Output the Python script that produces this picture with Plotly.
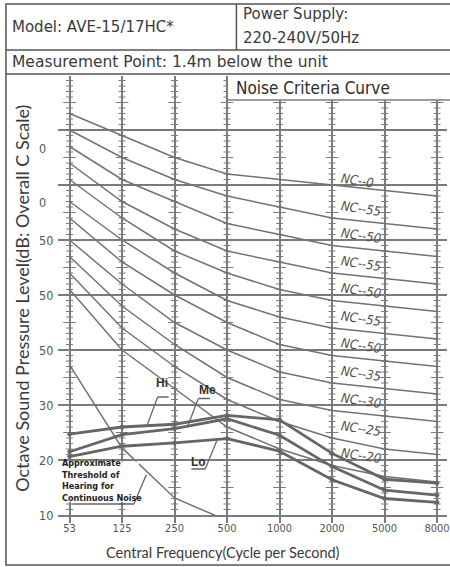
import plotly.graph_objects as go

# ---------------- data ----------------
FREQ_LABELS = ["53", "125", "250", "500", "1000", "2000", "5000", "8000"]

NC_LEVELS = [70, 65, 60, 55, 50, 45, 40, 35, 30, 25, 20]
NC_TEXT = ["NC--0", "NC--55", "NC--50", "NC--55", "NC--50", "NC--55",
           "NC--50", "NC--35", "NC--30", "NC--25", "NC--20"]
NC70 = [83, 79, 75, 72, 71, 70, 69, 68]
NC65 = [80, 75, 71, 68, 66, 64, 63, 62]
NC60 = [77, 71, 67, 63, 61, 59, 58, 57]
NC55 = [74, 67, 62, 58, 56, 54, 53, 52]
NC50 = [71, 64, 58, 54, 51, 49, 48, 47]
NC45 = [67, 60, 54, 49, 46, 44, 43, 42]
NC40 = [64, 56, 50, 45, 41, 39, 38, 37]
NC35 = [60, 52, 45, 40, 36, 34, 33, 32]
NC30 = [57, 48, 41, 35, 31, 29, 28, 27]
NC25 = [54, 44, 37, 31, 27, 24, 22, 21]
NC20 = [51, 40, 33, 26, 22, 19, 17, 16]
NC_CURVES = [NC70, NC65, NC60, NC55, NC50, NC45, NC40, NC35, NC30, NC25, NC20]

THRESH_FREQ = ["53", "125", "250", "500"]
THRESH = [37.3, 22.2, 13.1, 9.0]

HI = [24.7, 26.0, 26.5, 28.1, 27.3, 21.2, 16.5, 15.8]
ME = [21.5, 24.6, 25.7, 27.5, 24.5, 18.8, 14.5, 13.6]
LO = [20.6, 22.5, 23.1, 23.9, 21.6, 16.4, 13.0, 12.3]

Y_GRID = [10, 20, 30, 40, 50, 60, 70, 80]
Y_TICK_POS = [10, 20, 30, 40, 50, 60, 66.9, 76.7]
Y_TICK_TEXT = ["10", "20", "30", "50", "50", "50", "0", "0"]

HATCH_SMALL = [v for v in range(11, 90) if v % 5 != 0]
HATCH_LARGE = [v for v in range(15, 90, 5)]

# ---------------- style ----------------
W, H = 450, 567
GRID = "#7b7b7b"
CURVE = "#727272"
TXT = "#3a3a3a"
NARROW = "Liberation Sans Narrow, Arial Narrow, DejaVu Sans Condensed, sans-serif"
WIDE = "DejaVu Sans, Verdana, sans-serif"


def px(x):
    return x / W


def py(y):
    return 1 - y / H


fig = go.Figure()

# hatch marks on the vertical grid lines
for vals, size in ((HATCH_SMALL, 5), (HATCH_LARGE, 9)):
    xs, ys = [], []
    for f in FREQ_LABELS:
        for v in vals:
            xs.append(f)
            ys.append(v)
    fig.add_trace(go.Scatter(
        x=xs, y=ys, mode="markers", hoverinfo="skip", showlegend=False,
        marker=dict(symbol="line-ew", size=size, color=GRID,
                    line=dict(color=GRID, width=1)),
        cliponaxis=True))

for curve in NC_CURVES:
    fig.add_trace(go.Scatter(x=FREQ_LABELS, y=curve, mode="lines",
                             line=dict(color=CURVE, width=1.5),
                             showlegend=False, hoverinfo="skip"))

fig.add_trace(go.Scatter(x=THRESH_FREQ, y=THRESH, mode="lines",
                         line=dict(color=CURVE, width=1.5),
                         showlegend=False, hoverinfo="skip"))

for series in (LO, ME, HI):
    fig.add_trace(go.Scatter(x=FREQ_LABELS, y=series, mode="lines+markers",
                             line=dict(color="#666666", width=2.8),
                             marker=dict(size=4.5, color="#666666"),
                             showlegend=False, hoverinfo="skip"))

X0 = (58 - 70) / 52.86
X1 = (450 - 70) / 52.86
fig.update_layout(
    width=W, height=H,
    margin=dict(l=0, r=0, t=0, b=0),
    paper_bgcolor="white", plot_bgcolor="white",
    xaxis=dict(type="category", categoryorder="array", categoryarray=FREQ_LABELS,
               domain=[px(58), 1], range=[X0, X1],
               showgrid=True, gridcolor=GRID, gridwidth=1.5,
               showline=True, linecolor=GRID, linewidth=1.5,
               ticks="outside", ticklen=6, tickcolor=GRID, tickwidth=1.5,
               ticklabelstandoff=-4,
               tickfont=dict(family=NARROW, size=11, color="#555"),
               zeroline=False, fixedrange=True),
    yaxis=dict(domain=[py(515), py(76)], range=[10, 10 + 439 / 5.5],
               tickvals=Y_GRID, showticklabels=False,
               showgrid=True, gridcolor=GRID, gridwidth=1.5,
               zeroline=False, showline=False, ticks="", fixedrange=True),
)

annotations = []
for pos, txt in zip(Y_TICK_POS, Y_TICK_TEXT):
    annotations.append(dict(x=px(37), xref="paper", y=pos, yref="y", text=txt,
                            showarrow=False, xanchor="left", yanchor="middle",
                            font=dict(family=NARROW, size=12.5, color="#555")))

for lvl, txt in zip(NC_LEVELS, NC_TEXT):
    annotations.append(dict(x=5.1, xref="x", y=lvl + 0.8, yref="y", text=txt,
                            showarrow=False, xanchor="left", yanchor="middle",
                            textangle=9,
                            font=dict(family=NARROW, size=13, color="#505050",
                                      style="italic")))

annotations += [
    dict(x=px(10), y=py(27), xref="paper", yref="paper", text="Model: AVE-15/17HC*",
         showarrow=False, xanchor="left", yanchor="middle",
         font=dict(family=WIDE, size=15, color=TXT)),
    dict(x=px(243), y=py(14), xref="paper", yref="paper", text="Power Supply:",
         showarrow=False, xanchor="left", yanchor="middle",
         font=dict(family=WIDE, size=15, color=TXT)),
    dict(x=px(243), y=py(38), xref="paper", yref="paper", text="220-240V/50Hz",
         showarrow=False, xanchor="left", yanchor="middle",
         font=dict(family=WIDE, size=15, color=TXT)),
    dict(x=px(10), y=py(62), xref="paper", yref="paper",
         text="Measurement Point: 1.4m below the unit",
         showarrow=False, xanchor="left", yanchor="middle",
         font=dict(family=WIDE, size=15.5, color=TXT)),
    dict(x=px(236), y=py(88), xref="paper", yref="paper", text="Noise Criteria Curve",
         showarrow=False, xanchor="left", yanchor="middle",
         font=dict(family=NARROW, size=17, color="#2a2a2a")),
    dict(x=px(22), y=py(298), xref="paper", yref="paper",
         text="Octave Sound Pressure Level(dB: Overall C Scale)",
         showarrow=False, textangle=-90, xanchor="center", yanchor="middle",
         font=dict(family="Lato, sans-serif", size=18, color=TXT)),
    dict(x=px(224), y=py(552), xref="paper", yref="paper",
         text="Central Frequency(Cycle per Second)",
         showarrow=False, xanchor="center", yanchor="middle",
         font=dict(family="Lato, sans-serif", size=14.5, color=TXT)),
    dict(x=1.77, y=34.0, xref="x", yref="y", text="Hi", showarrow=False,
         font=dict(family="Liberation Sans, Arial, sans-serif", size=12, color="#333",
                   weight="bold")),
    dict(x=2.62, y=32.7, xref="x", yref="y", text="Me", showarrow=False,
         font=dict(family="Liberation Sans, Arial, sans-serif", size=12, color="#333",
                   weight="bold")),
    dict(x=2.45, y=19.6, xref="x", yref="y", text="Lo", showarrow=False,
         font=dict(family="Liberation Sans, Arial, sans-serif", size=12, color="#333",
                   weight="bold")),
    dict(x=px(60), y=py(480.5), xref="paper", yref="paper",
         text="Approximate<br>Threshold of<br>Hearing for<br>Continuous Noise",
         showarrow=False, xanchor="left", yanchor="middle", align="left",
         font=dict(family=NARROW, size=9, color="#222", weight="bold")),
]
fig.update_layout(annotations=annotations)

LINE = dict(color="#555", width=1.5)
LEAD = dict(color="#666", width=1.3)
shapes = [
    # outer frame and header rows
    dict(type="rect", xref="paper", yref="paper", x0=px(6), x1=1.02,
         y0=py(565), y1=py(4), line=LINE, layer="above"),
    dict(type="line", xref="paper", yref="paper", x0=px(6), x1=1.02,
         y0=py(50), y1=py(50), line=LINE),
    dict(type="line", xref="paper", yref="paper", x0=px(6), x1=1.02,
         y0=py(74), y1=py(74), line=LINE),
    dict(type="line", xref="paper", yref="paper", x0=px(238), x1=px(238),
         y0=py(50), y1=py(4), line=LINE),
    # title box
    dict(type="rect", xref="paper", yref="paper", x0=px(229.5), x1=1.02,
         y0=py(100), y1=py(75.5), fillcolor="white", line=dict(width=0), layer="above"),
    dict(type="line", xref="paper", yref="paper", x0=px(228), x1=1.02,
         y0=py(100), y1=py(100), line=dict(color=GRID, width=1.5), layer="above"),
    # white patch behind the threshold note
    dict(type="rect", xref="paper", yref="paper", x0=px(60), x1=px(140),
         y0=py(502), y1=py(461.5), fillcolor="white", line=dict(width=0), layer="above"),
    # leaders
    dict(type="line", xref="x", yref="y", x0=1.472, y0=26.2, x1=1.679, y1=31.45, line=LEAD),
    dict(type="line", xref="x", yref="y", x0=1.679, y0=31.45, x1=1.887, y1=31.45, line=LEAD),
    dict(type="line", xref="x", yref="y", x0=2.245, y0=26.0, x1=2.453, y1=31.18, line=LEAD),
    dict(type="line", xref="x", yref="y", x0=2.453, y0=31.18, x1=2.679, y1=31.18, line=LEAD),
    dict(type="line", xref="x", yref="y", x0=2.811, y0=23.7, x1=2.585, y1=18.36, line=LEAD),
    dict(type="line", xref="x", yref="y", x0=2.585, y0=18.36, x1=2.32, y1=18.36, line=LEAD),
    dict(type="line", xref="x", yref="y", x0=1.462, y0=17.3, x1=1.226, y1=12.0, line=LEAD, layer="above"),
    dict(type="line", xref="x", yref="y", x0=1.226, y0=12.0, x1=0.057, y1=12.0, line=LEAD, layer="above"),
]
fig.update_layout(shapes=shapes)

fig.write_html("out.html", config={"displayModeBar": False},
               post_script="document.body.style.margin='0';document.body.style.overflow='hidden';")
